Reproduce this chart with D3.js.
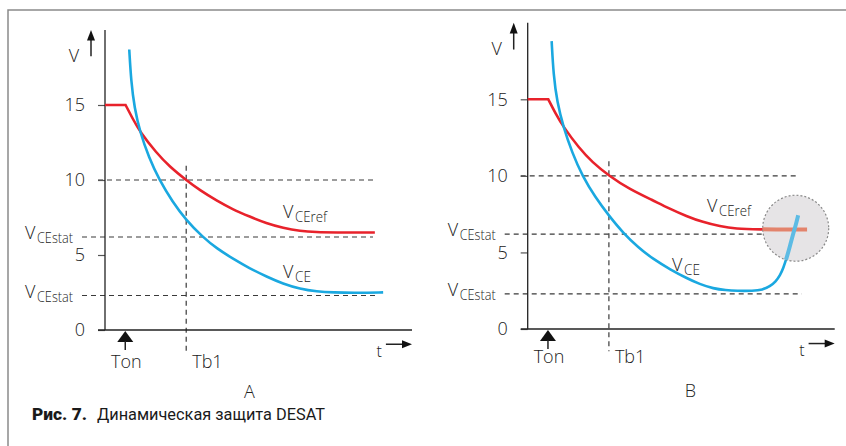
<!DOCTYPE html>
<html>
<head>
<meta charset="utf-8">
<script src="https://cdn.jsdelivr.net/npm/d3@7"></script>
<style>
  body { margin: 0; background: #fff; }
  svg { display: block; }
  .lbl { font-family: "Open Sans", "DejaVu Sans", sans-serif; font-weight: 300; fill: #222; }
</style>
</head>
<body>
<div id="chart"></div>
<script>
// Data: t in arbitrary units (0..100 along the time axis), values in volts
const tickValues = [0, 5, 10, 15];
const levelTen = 10;
const vceStatLevels = [6.2, 2.3];
const tOn = 6.6;
const tB1 = 26.45;

// Panel A curves (corner point repeated to keep it sharp)
const vceRefA = [[0, 15], [6.7, 15], [6.7, 15], [6.7, 15], [9, 14.1], [11.4, 13.2], [16.8, 11.8], [21, 10.9], [26.4, 10], [31, 9.3], [36.4, 8.62], [41.5, 8.05], [47.2, 7.55], [52.5, 7.12], [58.1, 6.8], [63.5, 6.6], [68.9, 6.52], [74.3, 6.5], [87.9, 6.5]];
const vceA = [[7.9, 18.7], [8.5, 16.6], [9.6, 14.8], [11.4, 13.2], [14.3, 11.5], [17.7, 10], [22, 8.55], [26.4, 7.33], [31.8, 6.2], [36.5, 5.42], [41.7, 4.75], [47, 4.12], [52.7, 3.55], [58, 3.08], [63.5, 2.74], [69, 2.56], [74.3, 2.5], [82, 2.48], [90.6, 2.51]];

// Panel B curves
const vceRefB = [[0, 15], [6.7, 15], [6.7, 15], [6.7, 15], [9, 14.1], [11.6, 13.2], [16.8, 11.8], [21, 10.9], [26.5, 10], [33, 9.15], [40.8, 8.4], [46, 7.88], [51.8, 7.36], [57, 6.98], [62.6, 6.7], [68.1, 6.54], [74, 6.5], [91, 6.5]];
const vceB = [[7.8, 18.8], [8.4, 16.6], [9.6, 14.8], [11.6, 13.2], [14.5, 11.5], [17.8, 10], [22, 8.6], [26.5, 7.39], [31.1, 6.27], [36, 5.33], [40.9, 4.56], [46.5, 3.88], [51.8, 3.32], [56, 2.93], [60.5, 2.64], [64.5, 2.53], [68.1, 2.49], [73.4, 2.49], [76.5, 2.56], [78.9, 2.78], [80.8, 3.1], [82.2, 3.5], [83.3, 4], [84.3, 4.61], [85.4, 5.4], [86.5, 6.24], [87.4, 6.85], [88.1, 7.43]];

// Circle marking the desaturation point on panel B
const desatPoint = [87.3, 6.58];

const width = 846, height = 446;
const svg = d3.select('#chart').append('svg')
    .attr('width', width)
    .attr('height', height);

// Outer frame
svg.append('path')
    .attr('d', 'M8,446 L8,10 L846,10')
    .attr('fill', 'none')
    .attr('stroke', '#8a8a8a')
    .attr('stroke-width', 1.5);

const red = '#e8222b';
const blue = '#1aa8e0';
const dash = '#3a3a3a';

const subWidths = { CEstat: 36, CEref: 32, CE: 16 };

const panels = [
    { name: 'A', x0: 105, y0: 330, y15: 105, ref: vceRefA, vce: vceA,
      tenEnd: 87.3, statEnds: [87.3, 88.9], refLabel: [58, 7.45], vceLabel: [58, 3.45],
      title: 47, labelDy: 38, circle: false },
    { name: 'B', x0: 527.7, y0: 329, y15: 99.3, ref: vceRefB, vce: vceB,
      tenEnd: 87.4, statEnds: [86.4, 89.3], refLabel: [58.4, 7.63], vceLabel: [47, 3.76],
      title: 53, labelDy: 34, circle: true }
];

// "V" with a narrow subscript
const subLabel = (g, x, y, main, sub) => {
    g.append('text')
        .attr('class', 'lbl')
        .attr('x', x)
        .attr('y', y)
        .style('font-size', '18px')
        .text(main);
    g.append('text')
        .attr('class', 'lbl')
        .attr('x', x + 12)
        .attr('y', y + 4)
        .attr('textLength', subWidths[sub])
        .attr('lengthAdjust', 'spacingAndGlyphs')
        .style('font-size', '15px')
        .text(sub);
};

panels.forEach(p => {
    const g = svg.append('g').attr('class', 'panel-' + p.name);

    const x = d3.scaleLinear().domain([0, 100]).range([p.x0, p.x0 + 307]);
    const y = d3.scaleLinear().domain([0, 15]).range([p.y0, p.y15]);

    // Dashed reference lines
    g.append('line')
        .attr('x1', x(0) - 7).attr('x2', x(p.tenEnd))
        .attr('y1', y(levelTen)).attr('y2', y(levelTen))
        .attr('stroke', dash).attr('stroke-width', 1.2).attr('stroke-dasharray', '5,4');
    vceStatLevels.forEach((v, j) => {
        g.append('line')
            .attr('x1', x(0) - 23).attr('x2', x(p.statEnds[j]))
            .attr('y1', y(v)).attr('y2', y(v))
            .attr('stroke', dash).attr('stroke-width', 1.2).attr('stroke-dasharray', '5,4');
        subLabel(g, x(0) - 80, y(v) + 2, 'V', 'CEstat');
    });
    // Tb1 vertical
    g.append('line')
        .attr('x1', x(tB1)).attr('x2', x(tB1))
        .attr('y1', y(10.95)).attr('y2', y(-1.45))
        .attr('stroke', dash).attr('stroke-width', 1.2).attr('stroke-dasharray', '5,4');

    // Axes
    const yAxis = d3.axisLeft(y).tickValues(tickValues).tickSize(7).tickPadding(13);
    const ax = g.append('g')
        .attr('transform', `translate(${x(0)},0)`)
        .call(yAxis);
    ax.select('.domain').remove();
    ax.selectAll('.tick line').attr('stroke', '#555').attr('stroke-width', 1.2);
    ax.selectAll('.tick text')
        .attr('class', 'lbl')
        .style('font-size', '18px')
        .attr('fill', '#222');

    g.append('line')
        .attr('x1', x(0)).attr('x2', x(0))
        .attr('y1', y(0)).attr('y2', y(20))
        .attr('stroke', '#222').attr('stroke-width', 1.3);
    g.append('line')
        .attr('x1', x(0) - 7).attr('x2', x(100))
        .attr('y1', y(0)).attr('y2', y(0))
        .attr('stroke', '#222').attr('stroke-width', 1.3);

    // V arrow
    const ax0 = x(0) - 14;
    g.append('line')
        .attr('x1', ax0).attr('x2', ax0)
        .attr('y1', y(18.25)).attr('y2', y(19.4))
        .attr('stroke', '#222').attr('stroke-width', 1.5);
    g.append('path')
        .attr('d', `M${ax0},${y(20)} L${ax0 - 4},${y(19.3)} L${ax0 + 4},${y(19.3)} Z`)
        .attr('fill', '#111');
    g.append('text').attr('class', 'lbl')
        .attr('x', x(0) - 31).attr('y', y(17.9))
        .attr('text-anchor', 'middle')
        .style('font-size', '18px')
        .text('V');

    // t arrow
    const tx0 = x(91.5), tx1 = x(100), ty = y(-0.95);
    g.append('line')
        .attr('x1', tx0).attr('x2', tx1 - 8)
        .attr('y1', ty).attr('y2', ty)
        .attr('stroke', '#222').attr('stroke-width', 1.5);
    g.append('path')
        .attr('d', `M${tx1},${ty} L${tx1 - 10},${ty - 4} L${tx1 - 10},${ty + 4} Z`)
        .attr('fill', '#111');
    g.append('text').attr('class', 'lbl')
        .attr('x', x(89.3)).attr('y', y(-1.78))
        .attr('text-anchor', 'middle')
        .style('font-size', '16px')
        .text('t');

    // Ton arrow
    const ox = x(tOn), oy = y(0) + 1;
    g.append('path')
        .attr('d', `M${ox},${oy} L${ox - 8},${oy + 11} L${ox + 8},${oy + 11} Z`)
        .attr('fill', '#111');
    g.append('line')
        .attr('x1', ox).attr('x2', ox)
        .attr('y1', oy + 10).attr('y2', oy + 19)
        .attr('stroke', '#222').attr('stroke-width', 1.5);
    g.append('text').attr('class', 'lbl')
        .attr('x', ox + 1).attr('y', y(0) + p.labelDy)
        .attr('text-anchor', 'middle')
        .style('font-size', '18px')
        .text('Ton');
    g.append('text').attr('class', 'lbl')
        .attr('x', x(tB1) + 6).attr('y', y(0) + p.labelDy)
        .style('font-size', '18px')
        .text('Tb1');

    // Curves
    const line = d3.line()
        .x(d => x(d[0]))
        .y(d => y(d[1]))
        .curve(d3.curveBasis);

    g.append('path')
        .datum(p.ref)
        .attr('d', line)
        .attr('fill', 'none')
        .attr('stroke', red)
        .attr('stroke-width', 2.6);
    g.append('path')
        .datum(p.vce)
        .attr('d', line)
        .attr('fill', 'none')
        .attr('stroke', blue)
        .attr('stroke-width', 2.6);

    if (p.circle) {
        const cx = x(desatPoint[0]), cy = y(desatPoint[1]);
        g.append('clipPath').attr('id', 'desat-clip')
            .append('circle').attr('cx', cx).attr('cy', cy).attr('r', 33);
        g.append('circle')
            .attr('cx', cx).attr('cy', cy).attr('r', 33)
            .attr('fill', '#e6e4e6')
            .attr('stroke', '#888')
            .attr('stroke-width', 1.2)
            .attr('stroke-dasharray', '2,2');
        const inner = g.append('g').attr('clip-path', 'url(#desat-clip)');
        inner.append('path')
            .datum(p.ref)
            .attr('d', line)
            .attr('fill', 'none')
            .attr('stroke', '#e3836c')
            .attr('stroke-width', 4);
        inner.append('path')
            .datum(p.vce)
            .attr('d', line)
            .attr('fill', 'none')
            .attr('stroke', '#5dbbe4')
            .attr('stroke-width', 4);
    }

    // Curve labels
    subLabel(g, x(p.refLabel[0]), y(p.refLabel[1]), 'V', 'CEref');
    subLabel(g, x(p.vceLabel[0]), y(p.vceLabel[1]), 'V', 'CE');

    // Panel title
    g.append('text').attr('class', 'lbl')
        .attr('x', x(p.title)).attr('y', y(0) + 68)
        .attr('text-anchor', 'middle')
        .style('font-size', '18px')
        .text(p.name);
});

// Caption
svg.append('text')
    .attr('x', 32).attr('y', 420)
    .attr('textLength', 55)
    .attr('lengthAdjust', 'spacingAndGlyphs')
    .style('font-family', 'Roboto, "Liberation Sans", sans-serif')
    .style('font-weight', 900)
    .style('font-size', '16px')
    .attr('fill', '#1a1a1a')
    .text('Рис. 7.');
svg.append('text')
    .attr('x', 97).attr('y', 420)
    .attr('textLength', 228)
    .attr('lengthAdjust', 'spacingAndGlyphs')
    .style('font-family', 'Roboto, "Liberation Sans", sans-serif')
    .style('font-size', '16px')
    .attr('fill', '#1a1a1a')
    .text('Динамическая защита DESAT');
</script>
</body>
</html>
